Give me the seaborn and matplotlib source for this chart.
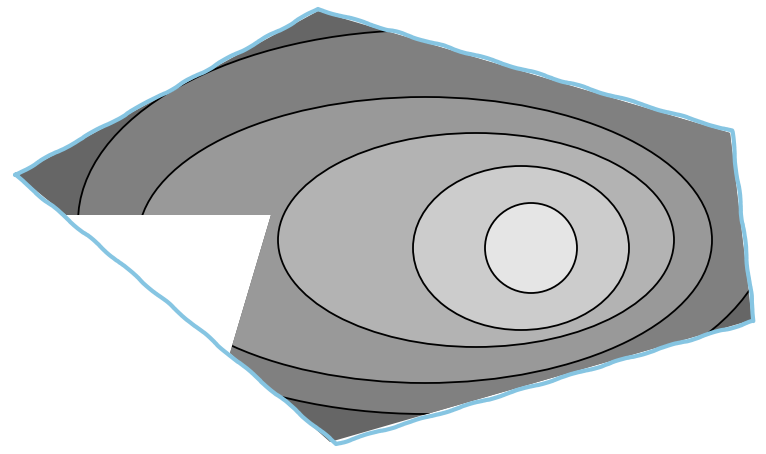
import numpy as np
import matplotlib
matplotlib.use("Agg")
import matplotlib.pyplot as plt
from matplotlib.patches import Ellipse, Polygon
import seaborn as sns

sns.set_style("white")

# outer hull (blue sketchy outline), pixel coords
hull_x = [15, 318, 732, 754, 336, 15]
hull_y = [175, 9, 131, 321, 444, 175]

# clip region (hull with a notch cut out on the left)
clip_x = [17, 318, 730, 752, 330, 230, 271, 66]
clip_y = [175, 11, 133, 320, 442, 353, 215, 215]

# contour ellipses, outermost first: centre, semi-axes
ell_cx = [425, 425, 476, 521, 531]
ell_cy = [222, 240, 240, 248, 248]
ell_a = [347, 287, 198, 108, 46]
ell_b = [192, 143, 107, 82, 45]

# band greys, outside -> centre
band_grays = ["#666666", "#808080", "#999999", "#b3b3b3", "#cccccc", "#e5e5e5"]

fig = plt.figure(figsize=(7.66, 4.54), dpi=100)
ax = fig.add_axes([0, 0, 1, 1])
ax.set_xlim(0, 766)
ax.set_ylim(454, 0)
ax.set_axis_off()

clip = Polygon(np.column_stack([clip_x, clip_y]), closed=True,
               facecolor=band_grays[0], edgecolor="none", zorder=1)
ax.add_patch(clip)

for i in range(len(ell_cx)):
    e = Ellipse((ell_cx[i], ell_cy[i]), 2 * ell_a[i], 2 * ell_b[i],
                facecolor=band_grays[i + 1], edgecolor="black", lw=1.3, zorder=2 + i)
    ax.add_patch(e)
    e.set_clip_path(clip)

sns.lineplot(x=hull_x, y=hull_y, sort=False, estimator=None, ax=ax,
             color="#86c5e2", lw=3.0, zorder=10)
hull_line = ax.lines[-1]
hull_line.set_solid_joinstyle("round")
hull_line.set_solid_capstyle("round")
hull_line.set_sketch_params(scale=0.7, length=70, randomness=4)

fig.savefig("out.png", dpi=100)
